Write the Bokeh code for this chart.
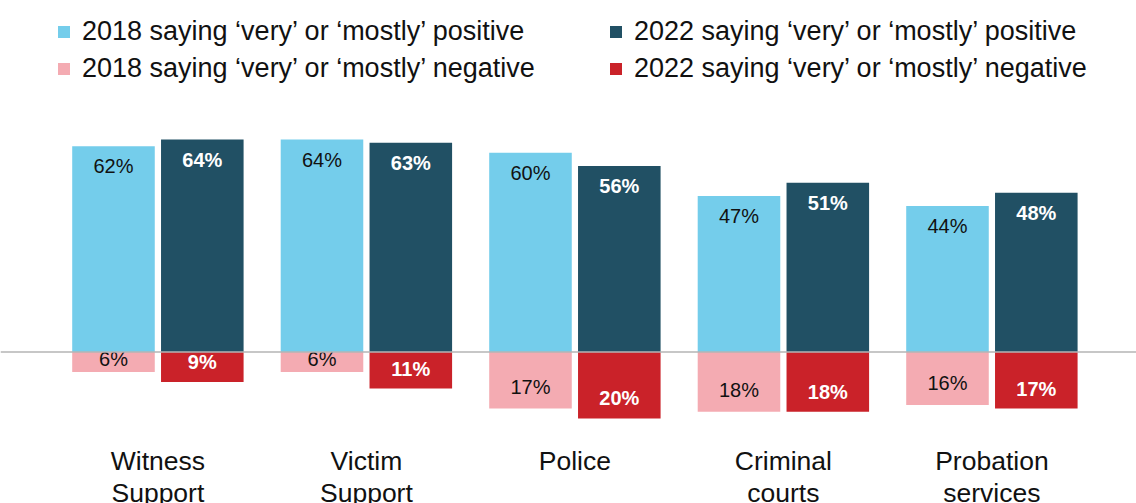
import numpy as np
from bokeh.plotting import figure
from bokeh.models import Range1d, Span, Legend, LegendItem
from bokeh.core.properties import value
from bokeh.embed import file_html
from bokeh.resources import INLINE

categories = ["Witness\nSupport", "Victim\nSupport", "Police", "Criminal\ncourts", "Probation\nservices"]
pos_2018 = [62, 64, 60, 47, 44]
pos_2022 = [64, 63, 56, 51, 48]
neg_2018 = [6, 6, 17, 18, 16]
neg_2022 = [9, 11, 20, 18, 17]

series_names = [
    "2018 saying \u2018very\u2019 or \u2018mostly\u2019 positive",
    "2022 saying \u2018very\u2019 or \u2018mostly\u2019 positive",
    "2018 saying \u2018very\u2019 or \u2018mostly\u2019 negative",
    "2022 saying \u2018very\u2019 or \u2018mostly\u2019 negative",
]

C_POS18 = "#74CDEB"
C_POS22 = "#215064"
C_NEG18 = "#F4ABB2"
C_NEG22 = "#CA2229"
FONT = "Liberation Sans"

W, H = 1136, 503
PX_PER_UNIT = 3.32
ZERO_PX = 351.5
CAT_PX = 208.5
FIRST_PX = 157.4

p = figure(width=W, height=H, output_backend="svg", toolbar_location=None,
           min_border=0, min_border_left=0, min_border_right=0,
           min_border_top=0, min_border_bottom=0,
           x_range=Range1d(-FIRST_PX / CAT_PX, (W - FIRST_PX) / CAT_PX),
           y_range=Range1d(-(H - ZERO_PX) / PX_PER_UNIT, ZERO_PX / PX_PER_UNIT))
p.xaxis.visible = False
p.yaxis.visible = False
p.grid.visible = False
p.outline_line_color = None
p.background_fill_color = "white"
p.border_fill_color = "white"

idx = np.arange(len(categories))
off = 0.213
bw = 0.396
x18 = idx - off
x22 = idx + off

r1 = p.vbar(x=x18, top=pos_2018, bottom=0, width=bw, fill_color=C_POS18, line_color=None)
r2 = p.vbar(x=x22, top=pos_2022, bottom=0, width=bw, fill_color=C_POS22, line_color=None)
r3 = p.vbar(x=x18, top=0, bottom=-np.array(neg_2018), width=bw, fill_color=C_NEG18, line_color=None)
r4 = p.vbar(x=x22, top=0, bottom=-np.array(neg_2022), width=bw, fill_color=C_NEG22, line_color=None)

p.add_layout(Span(location=0, dimension="width", line_color="#b5b5b5", line_width=1.5))

def lab(vals):
    return [f"{v}%" for v in vals]

# positive labels
p.text(x=x18, y=pos_2018, text=lab(pos_2018), y_offset=20, text_align="center",
       text_baseline="middle", text_font=value(FONT), text_font_size="20px", text_color="#111111")
p.text(x=x22, y=pos_2022, text=lab(pos_2022), y_offset=20, text_align="center",
       text_baseline="middle", text_font=value(FONT), text_font_size="20px",
       text_font_style="bold", text_color="white")
# negative labels
n18 = np.array(neg_2018)
n22 = np.array(neg_2022)
p.text(x=x18, y=np.minimum(-n18 + 6.6, -2.0), text=lab(neg_2018), text_align="center",
       text_baseline="middle", text_font=value(FONT), text_font_size="20px", text_color="#111111")
p.text(x=x22, y=np.minimum(-n22 + 6.0, -2.0), text=lab(neg_2022), text_align="center",
       text_baseline="middle", text_font=value(FONT), text_font_size="20px",
       text_font_style="bold", text_color="white")

# category labels
p.text(x=idx, y=np.zeros(len(idx)), text=categories, y_offset=94, text_align="center",
       text_baseline="top", text_font=value(FONT), text_font_size="26.5px",
       text_color="#111111", text_line_height=1.05)

def make_legend(items, x, y):
    return Legend(items=items, location=(x, y), orientation="vertical",
                  glyph_width=15, glyph_height=15, label_standoff=11,
                  label_text_font=FONT, label_text_font_size="27px", label_text_color="#111111",
                  label_height=20, spacing=6, padding=0, margin=0,
                  border_line_color=None, background_fill_alpha=0)

leg1 = make_legend([LegendItem(label=series_names[0], renderers=[r1]),
                    LegendItem(label=series_names[2], renderers=[r3])], 56, H - 84)
leg2 = make_legend([LegendItem(label=series_names[1], renderers=[r2]),
                    LegendItem(label=series_names[3], renderers=[r4])], 608, H - 84)
p.add_layout(leg1, "center")
p.add_layout(leg2, "center")

open("out.html", "w").write(file_html(p, INLINE))
